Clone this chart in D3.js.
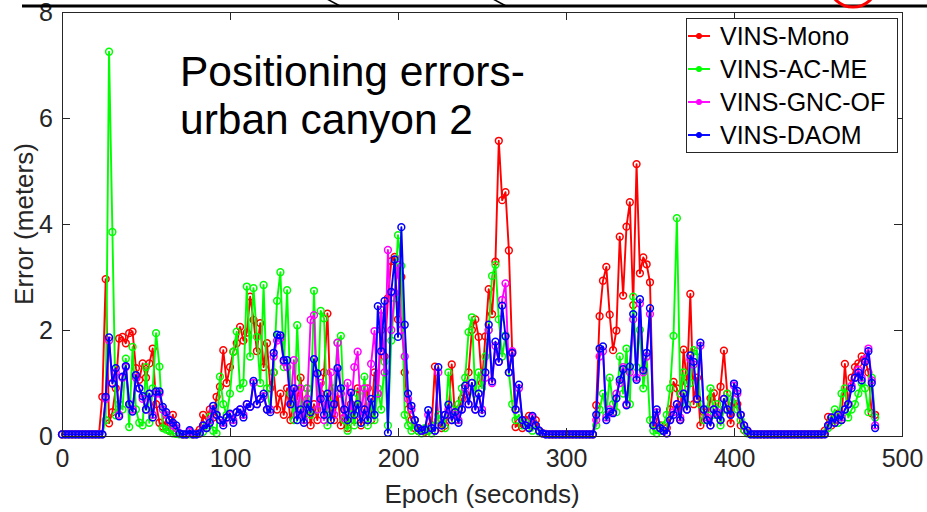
<!DOCTYPE html>
<html>
<head>
<meta charset="utf-8">
<script src="https://cdn.jsdelivr.net/npm/d3@7"></script>
<style>
  body { margin: 0; background: #fff; }
  svg { display: block; font-family: "Liberation Sans", Arial, Helvetica, sans-serif; }
</style>
</head>
<body>
<div id="vis-container"></div>
<script>
// Positioning errors, urban canyon 2 (sampled every 2 s)

const width = 927,
      height = 512,
      margin = { top: 12, bottom: 76, left: 62, right: 25 };

const seriesNames = ["VINS-Mono", "VINS-AC-ME", "VINS-GNC-OF", "VINS-DAOM"];
const seriesColors = ["#ff0000", "#00ff00", "#ff00ff", "#0000ff"];
const xTicks = [0, 100, 200, 300, 400, 500];
const yTicks = [0, 2, 4, 6, 8];
const titleLines = ["Positioning errors-", "urban canyon 2"];

// epochs 0..484, one value every 2 seconds
const epochs = d3.range(0, 485, 2);

const vinsMono = [
  0.03,0.03,0.03,0.03,0.03,0.03,0.03,0.03,0.03,0.03,
  0.03,0.03,0.74,2.96,0.24,0.45,0.9,1.84,1.87,1.75,
  1.94,1.97,1.28,1.06,1.37,1.1,1.37,1.65,0.6,0.25,
  0.18,0.3,0.1,0.4,0.05,0.04,0.03,0.03,0.08,0.03,
  0.05,0.12,0.4,0.3,0.5,0.35,0.74,0.93,1.62,1.0,
  1.3,1.59,1.75,2.06,1.8,1.95,2.63,2.19,1.6,2.13,
  1.3,1.75,0.9,1.2,0.5,0.8,0.4,0.9,0.3,0.6,
  0.7,1.1,0.4,0.9,0.2,0.6,0.3,0.8,1.2,2.31,
  0.5,0.3,0.8,0.2,0.5,0.15,0.6,0.3,0.9,0.2,
  0.5,0.9,0.3,1.2,0.8,2.0,1.5,2.6,3.3,3.38,
  2.2,3.0,1.2,0.5,0.3,0.15,0.1,0.12,0.08,0.1,
  0.2,1.31,0.3,0.15,0.2,0.4,1.35,0.3,0.5,0.7,
  0.8,1.2,2.0,2.2,1.87,1.0,1.88,2.77,2.3,3.29,
  5.57,4.45,4.6,3.5,1.56,0.17,0.25,0.15,0.3,0.38,
  0.2,0.3,0.1,0.05,0.04,0.03,0.03,0.03,0.03,0.03,
  0.03,0.03,0.03,0.03,0.03,0.03,0.03,0.03,0.03,0.58,
  2.26,2.93,3.19,2.29,1.62,1.99,3.76,2.65,3.95,4.41,
  2.47,5.13,3.07,3.37,3.24,2.9,0.3,0.15,0.2,0.1,
  0.15,0.5,1.02,0.9,0.3,1.63,1.0,2.68,0.6,1.1,
  0.2,0.45,0.3,0.71,0.81,0.42,0.93,1.61,0.8,0.24,
  0.6,0.6,0.2,0.11,0.06,0.04,0.03,0.03,0.03,0.03,
  0.03,0.03,0.03,0.03,0.03,0.03,0.03,0.03,0.03,0.03,
  0.03,0.03,0.03,0.03,0.03,0.03,0.03,0.1,0.36,0.2,
  0.3,0.42,0.3,1.36,0.6,1.1,1.3,1.37,1.5,1.45,
  1.2,0.43,0.4
];

const vinsAcMe = [
  0.03,0.03,0.03,0.03,0.03,0.03,0.03,0.03,0.03,0.03,
  0.03,0.03,0.03,0.3,7.25,3.85,0.39,0.6,0.5,1.46,
  0.17,1.68,0.5,0.25,0.2,1.3,0.25,0.9,1.94,1.31,
  0.15,0.12,0.1,0.05,0.04,0.03,0.03,0.03,0.03,0.03,
  0.03,0.05,0.08,0.2,0.36,0.1,0.05,1.12,0.6,0.4,
  0.8,1.59,1.97,0.9,1.0,2.82,1.5,2.79,1.87,1.0,
  2.85,0.9,0.5,1.2,2.55,3.09,1.3,2.75,0.8,0.3,
  2.09,0.6,0.3,0.9,0.4,2.74,0.5,2.36,2.22,0.2,
  0.6,0.9,1.76,1.89,0.3,0.1,0.5,0.2,0.8,0.4,
  1.12,0.2,0.6,0.3,0.9,0.5,1.4,0.2,1.8,2.6,
  3.79,3.21,0.4,0.2,0.1,0.3,0.1,0.05,0.15,0.1,
  0.05,0.2,0.4,0.3,0.15,1.2,0.5,0.3,0.6,0.9,
  1.1,1.96,2.24,0.8,1.2,0.9,1.5,2.0,3.02,3.23,
  2.2,1.5,1.9,1.2,0.6,0.3,0.4,0.2,0.25,0.15,
  0.1,0.2,0.08,0.05,0.03,0.03,0.03,0.03,0.03,0.03,
  0.03,0.03,0.03,0.03,0.03,0.03,0.03,0.03,0.03,0.2,
  0.5,0.8,0.4,1.1,0.6,0.45,1.5,0.8,1.65,0.6,
  2.63,1.3,2.0,0.9,1.5,0.3,0.1,0.05,0.1,0.2,
  0.4,0.9,1.89,4.11,0.8,1.2,0.6,1.0,1.62,1.6,
  0.6,0.3,0.5,0.9,0.4,0.6,0.2,0.5,0.8,0.5,
  0.7,0.5,0.3,0.12,0.05,0.03,0.03,0.03,0.03,0.03,
  0.03,0.03,0.03,0.03,0.03,0.03,0.03,0.03,0.03,0.03,
  0.03,0.03,0.03,0.03,0.03,0.03,0.03,0.05,0.15,0.3,
  0.5,0.25,0.8,0.9,0.35,0.5,0.6,0.8,1.0,0.9,
  0.45,1.1,0.35
];

const vinsGncOf = [
  0.03,0.03,0.03,0.03,0.03,0.03,0.03,0.03,0.03,0.03,
  0.03,0.03,0.03,0.7,1.8,1.0,1.2,0.4,1.1,1.3,
  0.6,0.5,1.1,0.9,0.7,0.5,0.8,0.4,0.8,0.8,
  0.5,0.4,0.3,0.2,0.15,0.05,0.03,0.03,0.08,0.03,
  0.03,0.05,0.2,0.15,0.3,0.5,0.4,0.3,0.25,0.35,
  0.4,0.3,0.45,0.5,0.4,0.6,0.55,1.0,0.6,0.7,
  0.75,0.5,0.5,1.5,1.8,1.85,1.4,1.3,0.6,1.43,
  0.4,0.9,0.3,0.7,2.19,2.28,0.5,1.0,0.3,0.6,
  1.2,0.4,1.76,0.8,0.35,1.0,0.5,1.3,1.59,0.4,
  0.9,0.3,1.36,1.98,0.8,2.38,1.2,3.51,2.0,2.7,
  3.23,2.0,1.5,0.7,0.5,0.3,0.15,0.1,0.12,0.4,
  0.15,0.1,1.2,0.2,0.4,0.5,0.3,0.4,0.3,0.5,
  0.9,0.6,1.0,0.5,0.8,0.5,1.1,2.0,1.0,1.7,
  1.4,2.57,2.88,1.2,1.6,0.5,0.9,0.3,0.2,0.15,
  0.35,0.2,0.1,0.05,0.03,0.03,0.03,0.03,0.03,0.03,
  0.03,0.03,0.03,0.03,0.03,0.03,0.03,0.03,0.03,0.3,
  1.5,1.6,0.35,0.5,0.45,0.8,1.0,1.3,0.6,1.2,
  2.2,1.1,2.5,1.2,1.5,2.3,0.2,0.45,0.15,0.1,
  0.05,0.3,0.45,0.6,0.35,0.8,0.5,1.45,1.35,0.7,
  1.7,0.5,0.35,0.2,0.5,0.45,0.3,0.7,0.5,0.4,
  0.95,0.8,0.4,0.2,0.1,0.03,0.03,0.03,0.03,0.03,
  0.03,0.03,0.03,0.03,0.03,0.03,0.03,0.03,0.03,0.03,
  0.03,0.03,0.03,0.03,0.03,0.03,0.03,0.03,0.2,0.35,
  0.25,0.4,0.35,0.5,0.6,0.95,1.1,1.25,1.1,1.45,
  1.65,1.05,0.2
];

const vinsDaom = [
  0.03,0.03,0.03,0.03,0.03,0.03,0.03,0.03,0.03,0.03,
  0.03,0.03,0.03,0.74,1.86,0.99,1.28,0.37,1.12,1.32,
  0.6,0.46,1.15,0.9,0.75,0.5,0.8,0.35,0.84,0.84,
  0.55,0.45,0.3,0.25,0.2,0.05,0.03,0.03,0.11,0.03,
  0.03,0.05,0.2,0.15,0.25,0.57,0.4,0.3,0.2,0.35,
  0.42,0.25,0.45,0.5,0.35,0.6,0.55,1.04,0.6,0.7,
  0.8,0.5,0.45,1.57,1.91,1.9,1.43,1.43,0.6,0.9,
  0.3,0.5,0.25,0.6,0.45,1.45,1.18,0.7,0.4,0.8,
  0.3,0.6,1.28,0.9,0.5,0.3,0.82,0.4,0.6,0.25,
  0.5,0.3,0.7,0.4,2.45,1.6,2.55,0.06,2.72,3.33,
  1.87,3.94,2.1,0.8,0.57,0.3,0.15,0.1,0.12,0.49,
  0.15,0.1,1.3,0.2,0.4,0.59,0.3,0.45,0.25,0.5,
  0.95,0.6,1.0,0.5,0.8,0.43,1.2,2.1,1.03,1.78,
  1.4,2.46,1.88,1.2,1.57,0.5,0.97,0.3,0.2,0.15,
  0.38,0.2,0.1,0.05,0.03,0.03,0.03,0.03,0.03,0.03,
  0.03,0.03,0.03,0.03,0.03,0.03,0.03,0.03,0.03,0.4,
  1.65,1.69,0.3,0.46,0.43,0.71,1.06,1.26,0.58,1.31,
  2.3,1.06,2.58,1.24,1.57,2.41,0.2,0.5,0.15,0.1,
  0.05,0.3,0.4,0.6,0.3,0.8,0.5,1.52,1.4,0.7,
  1.76,0.5,0.3,0.2,0.5,0.4,0.3,0.7,0.5,0.4,
  0.99,0.85,0.4,0.2,0.1,0.03,0.03,0.03,0.03,0.03,
  0.03,0.03,0.03,0.03,0.03,0.03,0.03,0.03,0.03,0.03,
  0.03,0.03,0.03,0.03,0.03,0.03,0.03,0.03,0.2,0.35,
  0.25,0.4,0.3,0.5,0.6,0.9,1.1,1.2,1.05,1.4,
  1.6,1.0,0.15
];

const seriesValues = [vinsMono, vinsAcMe, vinsGncOf, vinsDaom];

const axisColor = "#262626";

var svg = d3.select("#vis-container").append("svg")
    .attr("width", width)
    .attr("height", height);

// ******* Scales *******
var x = d3.scaleLinear().domain([0, 500]).range([margin.left, width - margin.right]);
var y = d3.scaleLinear().domain([0, 8]).range([height - margin.bottom, margin.top]);

svg.append("rect")
    .attr("x", margin.left).attr("y", margin.top)
    .attr("width", x(500) - x(0)).attr("height", y(0) - y(8))
    .attr("fill", "#fff");

// ******* Series *******
var line = d3.line()
    .x(function(d) { return x(d[0]); })
    .y(function(d) { return y(d[1]); });

seriesValues.forEach(function(vals, s) {
    var pts = vals.map(function(v, i) { return [epochs[i], v]; });
    var g = svg.append("g").attr("class", "series");
    g.append("path")
        .datum(pts)
        .attr("d", line)
        .attr("fill", "none")
        .attr("stroke", seriesColors[s])
        .attr("stroke-width", 1.9)
        .attr("stroke-linejoin", "round");
    g.selectAll("circle")
        .data(pts)
        .enter()
        .append("circle")
        .attr("cx", function(d) { return x(d[0]); })
        .attr("cy", function(d) { return y(d[1]); })
        .attr("r", 3.4)
        .attr("fill", "none")
        .attr("stroke", seriesColors[s])
        .attr("stroke-width", 1.5);
});

// ******* Axes *******
function styleAxis(g) {
    g.select(".domain").remove();
    g.selectAll(".tick line").attr("stroke", axisColor);
    g.selectAll(".tick text")
        .attr("fill", axisColor)
        .style("font-size", "25px")
        .style("font-family", "'Liberation Sans', Arial, sans-serif");
}

svg.append("g")
    .attr("transform", `translate(0 ${y(0)})`)
    .call(d3.axisBottom(x).tickValues(xTicks).tickSizeInner(-8).tickSizeOuter(0).tickPadding(13))
    .call(styleAxis);
svg.append("g")
    .attr("transform", `translate(0 ${y(8)})`)
    .call(d3.axisTop(x).tickValues(xTicks).tickSizeInner(-8).tickSizeOuter(0).tickFormat(""))
    .call(styleAxis);
svg.append("g")
    .attr("transform", `translate(${x(0)} 0)`)
    .call(d3.axisLeft(y).tickValues(yTicks).tickSizeInner(-8).tickSizeOuter(0).tickPadding(9))
    .call(styleAxis);
svg.append("g")
    .attr("transform", `translate(${x(500)} 0)`)
    .call(d3.axisRight(y).tickValues(yTicks).tickSizeInner(-8).tickSizeOuter(0).tickFormat(""))
    .call(styleAxis);

svg.append("rect")
    .attr("x", x(0) + 0.5).attr("y", y(8) + 0.5)
    .attr("width", x(500) - x(0)).attr("height", y(0) - y(8))
    .attr("fill", "none")
    .attr("stroke", axisColor)
    .attr("stroke-width", 1);

// axis labels
svg.append("text")
    .attr("x", (x(0) + x(500)) / 2)
    .attr("y", 503)
    .attr("text-anchor", "middle")
    .attr("fill", axisColor)
    .style("font-size", "26px")
    .text("Epoch (seconds)");
svg.append("text")
    .attr("transform", `translate(33 ${(y(0) + y(8)) / 2}) rotate(-90)`)
    .attr("text-anchor", "middle")
    .attr("fill", axisColor)
    .style("font-size", "26px")
    .text("Error (meters)");

// title inside the axes
svg.append("g").selectAll("text")
    .data(titleLines)
    .enter()
    .append("text")
    .attr("x", 180)
    .attr("y", function(d, i) { return 86 + i * 48; })
    .attr("fill", "#000")
    .style("font-size", "42.5px")
    .text(function(d) { return d; });

// ******* Legend *******
var legend = svg.append("g").attr("transform", "translate(686 18)");
legend.append("rect")
    .attr("x", 0.5).attr("y", 0.5)
    .attr("width", 211).attr("height", 134)
    .attr("fill", "#fff")
    .attr("stroke", axisColor)
    .attr("stroke-width", 1);
seriesNames.forEach(function(name, i) {
    var ly = 18 + i * 33;
    legend.append("line")
        .attr("x1", 2).attr("x2", 24)
        .attr("y1", ly).attr("y2", ly)
        .attr("stroke", seriesColors[i])
        .attr("stroke-width", 1.9);
    legend.append("circle")
        .attr("cx", 13).attr("cy", ly).attr("r", 2.6)
        .attr("fill", seriesColors[i])
        .attr("stroke", seriesColors[i]);
    legend.append("text")
        .attr("x", 34).attr("y", ly + 9)
        .attr("fill", "#000")
        .style("font-size", "25px")
        .text(name);
});

// ******* Overlapping figure edge at the top *******
svg.append("line")
    .attr("x1", 22).attr("x2", width)
    .attr("y1", 6).attr("y2", 6)
    .attr("stroke", "#000").attr("stroke-width", 3);
svg.append("line")
    .attr("x1", 327).attr("y1", -1).attr("x2", 340).attr("y2", 6)
    .attr("stroke", "#000").attr("stroke-width", 1.5);
svg.append("line")
    .attr("x1", 493).attr("y1", -1).attr("x2", 506).attr("y2", 6)
    .attr("stroke", "#000").attr("stroke-width", 1.5);
svg.append("ellipse")
    .attr("cx", 853).attr("cy", -14)
    .attr("rx", 23).attr("ry", 21)
    .attr("fill", "none")
    .attr("stroke", "#ff0000").attr("stroke-width", 3);
</script>
</body>
</html>
